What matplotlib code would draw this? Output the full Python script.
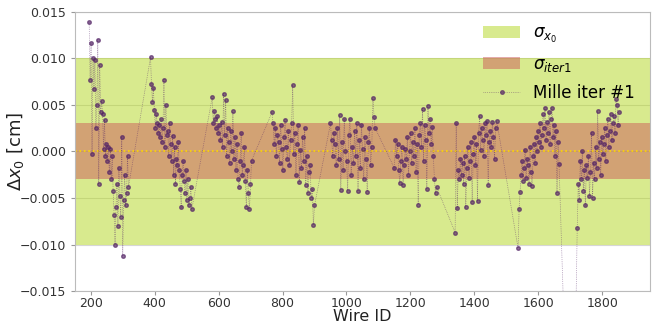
import numpy as np
import matplotlib
matplotlib.use("Agg")
import matplotlib.pyplot as plt

# wire ranges (first, last wire) of each chunk and the Mille residuals
ranges = [(195, 318), (387, 516), (580, 703), (767, 900), (950, 1090),
          (1150, 1282), (1340, 1470), (1537, 1665), (1722, 1853)]

c1 = [0.0139, 0.0077, 0.0116, -0.0003, 0.0100, 0.0067, 0.0098, 0.0025, 0.0050, 0.0120,
      -0.0035, 0.0093, 0.0042, 0.0054, 0.0040, 0.0003, 0.0034, -0.0005, 0.0008, -0.0010,
      0.0005, -0.0022, 0.0003, -0.0030, -0.0005, -0.0042, -0.0068, -0.0100, -0.0060, -0.0035,
      -0.0080, -0.0018, -0.0048, -0.0070, 0.0015, -0.0112, -0.0052, -0.0025, -0.0058, -0.0045,
      -0.0005, -0.0038]
c2 = [0.0101, 0.0072, 0.0053, 0.0068, 0.0045, 0.0025, 0.0040, 0.0030, 0.0020, 0.0028,
      0.0015, 0.0035, 0.0010, 0.0025, 0.0077, 0.0005, 0.0050, 0.0018, 0.0022, -0.0005,
      0.0030, 0.0008, -0.0010, 0.0017, -0.0025, 0.0005, -0.0035, -0.0008, -0.0015, 0.0010,
      -0.0020, -0.0040, -0.0060, -0.0025, -0.0010, -0.0032, -0.0045, -0.0020, -0.0052, -0.0030,
      -0.0058, -0.0050, -0.0038, -0.0062]
c3 = [0.0058, 0.0030, 0.0043, 0.0035, 0.0025, 0.0038, 0.0020, 0.0028, 0.0012, 0.0032,
      0.0005, 0.0062, 0.0018, 0.0055, -0.0005, 0.0025, 0.0010, -0.0012, 0.0022, 0.0000,
      0.0043, -0.0008, 0.0015, -0.0020, 0.0008, -0.0030, -0.0038, -0.0010, 0.0020, -0.0025,
      -0.0015, 0.0005, -0.0032, -0.0060, -0.0020, -0.0045, -0.0062, -0.0035, -0.0010]
c4 = [0.0042, 0.0030, 0.0008, 0.0025, -0.0005, 0.0018, 0.0010, -0.0012, 0.0028, 0.0003,
      -0.0020, 0.0015, 0.0034, 0.0005, -0.0008, 0.0022, -0.0015, 0.0012, 0.0030, 0.0071,
      -0.0003, 0.0020, -0.0025, 0.0008, 0.0028, -0.0033, 0.0002, -0.0018, 0.0016, -0.0010,
      0.0025, -0.0036, -0.0005, -0.0045, -0.0022, -0.0015, -0.0050, -0.0040, -0.0079, -0.0058]
c5 = [0.0030, 0.0012, -0.0005, 0.0020, 0.0008, -0.0015, 0.0025, -0.0008, 0.0039, -0.0041,
      0.0010, -0.0020, 0.0035, 0.0000, -0.0010, -0.0042, 0.0018, 0.0035, -0.0025, 0.0005,
      -0.0012, 0.0022, -0.0005, 0.0030, -0.0042, 0.0012, -0.0018, 0.0028, 0.0003, -0.0030,
      0.0015, -0.0008, -0.0043, 0.0010, 0.0025, -0.0015, 0.0005, 0.0057, 0.0037, 0.0025]
c6 = [-0.0018, 0.0012, -0.0005, 0.0008, -0.0020, -0.0034, -0.0010, 0.0005, -0.0036, -0.0015,
      0.0003, -0.0008, 0.0015, -0.0025, 0.0000, 0.0020, -0.0012, 0.0010, -0.0005, 0.0025,
      -0.0022, 0.0008, -0.0057, 0.0018, 0.0030, 0.0005, 0.0046, -0.0010, 0.0028, 0.0012,
      -0.0040, 0.0049, 0.0020, 0.0035, 0.0008, 0.0026, -0.0005, -0.0030, -0.0045, -0.0038]
c7 = [-0.0087, 0.0031, -0.0061, -0.0020, -0.0030, -0.0008, -0.0025, -0.0012, -0.0035, -0.0005,
      -0.0060, -0.0018, 0.0005, -0.0028, -0.0010, 0.0010, -0.0054, -0.0003, 0.0015, -0.0015,
      0.0008, -0.0053, 0.0020, 0.0038, 0.0002, 0.0025, 0.0012, -0.0005, 0.0030, 0.0018,
      0.0033, -0.0036, 0.0010, 0.0022, 0.0005, 0.0032, 0.0015, -0.0008, 0.0025, 0.0033]
c8 = [-0.0104, -0.0062, -0.0043, -0.0025, -0.0010, -0.0032, -0.0018, 0.0002, -0.0028, -0.0008,
      -0.0015, -0.0035, 0.0005, -0.0022, -0.0037, -0.0005, 0.0008, -0.0012, 0.0015, 0.0000,
      0.0022, 0.0010, 0.0030, 0.0005, 0.0018, 0.0040, 0.0025, 0.0047, 0.0012, 0.0032,
      0.0020, 0.0042, 0.0008, 0.0035, 0.0047, 0.0015, 0.0028, -0.0005, 0.0022, -0.0045,
      0.0010, -0.0013]
c9 = [-0.0082, -0.0035, -0.0052, -0.0010, -0.0030, 0.0000, -0.0042, -0.0020, -0.0058, -0.0015,
      -0.0028, -0.0005, -0.0048, -0.0022, 0.0020, -0.0050, -0.0012, -0.0030, 0.0005, -0.0018,
      0.0043, -0.0008, 0.0010, -0.0025, 0.0015, -0.0003, 0.0008, 0.0025, -0.0010, 0.0018,
      0.0035, 0.0005, 0.0022, 0.0040, 0.0012, 0.0030, 0.0038, 0.0020, 0.0056, 0.0050,
      0.0028, 0.0042]
chunks = [c1, c2, c3, c4, c5, c6, c7, c8, c9]

# one badly fitted wire between the last two chunks (far below the axis)
outlier_wire = 1705
outlier_val = -0.045

sigma_x0 = 0.010
sigma_iter1 = 0.003

wires, dx = [], []
for (a, b), vals in zip(ranges, chunks):
    wires.extend(np.linspace(a, b, len(vals)))
    dx.extend(vals)
    if a == 1537:
        wires.append(outlier_wire)
        dx.append(outlier_val)

fig = plt.figure(figsize=(6.56, 3.25), dpi=100)
ax = fig.add_axes([0.114, 0.104, 0.877, 0.86])

ax.yaxis.grid(True, color="#bbbbbb", lw=0.8, alpha=0.6)
ax.set_axisbelow(True)
ax.axhspan(-sigma_x0, sigma_x0, color="#b3d71f", alpha=0.5, lw=0, label=r"$\sigma_{x_0}$")
ax.axhspan(-sigma_iter1, sigma_iter1, color="indianred", alpha=0.5, lw=0, label=r"$\sigma_{iter1}$")
ax.axhline(0, color="gold", ls=":", lw=1.2)
ax.plot(wires, dx, ls=":", lw=0.5, marker="o", ms=2.6, color="#542466", alpha=0.65,
        label="Mille iter #1")

ax.set_xlim(150, 1950)
ax.set_ylim(-0.015, 0.015)
ax.set_yticks([-0.015, -0.010, -0.005, 0.0, 0.005, 0.010, 0.015])
ax.set_yticklabels(["\u22120.015", "\u22120.010", "\u22120.005", "0.000", "0.005", "0.010", "0.015"])
ax.set_xticks([200, 400, 600, 800, 1000, 1200, 1400, 1600, 1800])
ax.tick_params(labelsize=9, colors="#333333", length=3, color="#999999")
ax.tick_params(axis="x", pad=1.5)
for s in ax.spines.values():
    s.set_color("#bbbbbb")

ax.set_xlabel("Wire ID", fontsize=11.5, color="#222222")
ax.set_ylabel(r"$\Delta x_0$ [cm]", fontsize=13, color="#222222")
ax.xaxis.set_label_coords(0.5, -0.063)
ax.yaxis.set_label_coords(-0.085, 0.5)

ax.legend(loc="upper right", bbox_to_anchor=(1.0, 1.01), frameon=False, fontsize=12,
          handlelength=2.2, labelspacing=0.6)

fig.savefig("out.png", dpi=100)
